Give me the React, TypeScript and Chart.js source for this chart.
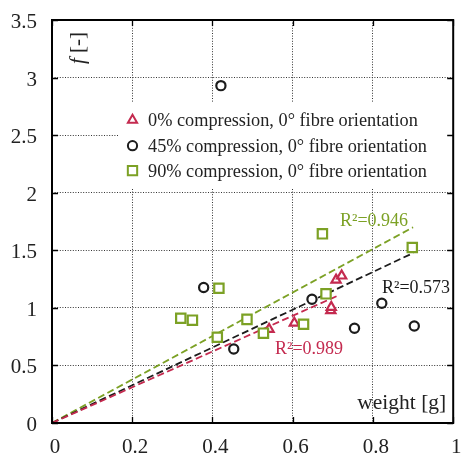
import React, { useEffect, useRef } from "react";
import { Chart, registerables } from "chart.js";

Chart.register(...registerables);

// ---------- data ----------
const weight0 = [0.541, 0.604, 0.695, 0.696, 0.708, 0.722];
const f0 = [0.815, 0.868, 0.977, 1.006, 1.243, 1.278];

const weight45 = [0.378, 0.421, 0.453, 0.648, 0.754, 0.822, 0.903];
const f45 = [1.177, 2.93, 0.643, 1.075, 0.823, 1.04, 0.843];

const weight90 = [0.321, 0.35, 0.412, 0.416, 0.486, 0.527, 0.627, 0.674, 0.683, 0.898];
const f90 = [0.91, 0.893, 0.745, 1.17, 0.9, 0.78, 0.858, 1.643, 1.122, 1.524];

// linear fits through the origin: end point of each dashed line
const fitEndX = [0.715, 0.9, 0.9];
const fitEndY = [1.11, 1.476, 1.7];
const r2Labels = ["R²=0.989", "R²=0.573", "R²=0.946"];

const legendLabels = [
  "0% compression, 0° fibre orientation",
  "45% compression, 0° fibre orientation",
  "90% compression, 0° fibre orientation",
];

const xTickLabels = ["0", "0.2", "0.4", "0.6", "0.8", "1"];
const yTickLabels = ["0", "0.5", "1", "1.5", "2", "2.5", "3", "3.5"];
const xTitle = "weight [g]";
const yTitleItalic = "f";
const yTitleRest = " [-]";

// ---------- styles ----------
const RED = "#c42a4f";
const BLACK = "#1c1c1c";
const GREEN = "#7ca125";
const colors = [RED, BLACK, GREEN];
const styles = ["triangle", "circle", "rect"] as const;
const radii = [5.3, 4.6, 6.6];
const SERIF = '"Liberation Serif", "Times New Roman", serif';

function drawMarker(ctx: CanvasRenderingContext2D, style: string, x: number, y: number, r: number) {
  ctx.beginPath();
  if (style === "circle") {
    ctx.arc(x, y, r, 0, Math.PI * 2);
  } else if (style === "rect") {
    const s = r * Math.SQRT1_2;
    ctx.rect(x - s, y - s, 2 * s, 2 * s);
  } else {
    let rad = 0;
    ctx.moveTo(x + Math.sin(rad) * r, y - Math.cos(rad) * r);
    rad += (2 * Math.PI) / 3;
    ctx.lineTo(x + Math.sin(rad) * r, y - Math.cos(rad) * r);
    rad += (2 * Math.PI) / 3;
    ctx.lineTo(x + Math.sin(rad) * r, y - Math.cos(rad) * r);
    ctx.closePath();
  }
  ctx.fill();
  ctx.stroke();
}

const decoPlugin = {
  id: "deco",
  beforeDatasetsDraw(chart: any) {
    const { ctx, chartArea: a } = chart;
    ctx.save();
    // legend box (covers the grid)
    ctx.fillStyle = "#ffffff";
    ctx.fillRect(a.left + 66, a.top + 83, a.right - a.left - 70, 85);
    const rows = [a.top + 100, a.top + 125.7, a.top + 150.7];
    ctx.font = `18.3px ${SERIF}`;
    ctx.textBaseline = "alphabetic";
    ctx.textAlign = "left";
    for (let i = 0; i < 3; i++) {
      ctx.lineWidth = 2;
      ctx.strokeStyle = colors[i];
      ctx.fillStyle = "#ffffff";
      drawMarker(ctx, styles[i], a.left + 80.5, rows[i], radii[i]);
      ctx.fillStyle = "#222";
      ctx.fillText(legendLabels[i], a.left + 96, rows[i] + 6);
    }
    ctx.restore();
  },
  afterDraw(chart: any) {
    const { ctx, chartArea: a } = chart;
    const xs = chart.scales.x;
    const ys = chart.scales.y;
    ctx.save();
    // tick marks on all four sides
    ctx.strokeStyle = "#000";
    ctx.lineWidth = 1.3;
    const tl = 6;
    ctx.beginPath();
    for (const t of xTickLabels) {
      const px = Math.round(xs.getPixelForValue(Number(t))) + 0.5;
      ctx.moveTo(px, a.bottom);
      ctx.lineTo(px, a.bottom - tl);
      ctx.moveTo(px, a.top);
      ctx.lineTo(px, a.top + tl);
    }
    for (const t of yTickLabels) {
      const py = Math.round(ys.getPixelForValue(Number(t))) + 0.5;
      ctx.moveTo(a.left, py);
      ctx.lineTo(a.left + tl, py);
      ctx.moveTo(a.right, py);
      ctx.lineTo(a.right - tl, py);
    }
    ctx.stroke();
    // frame
    ctx.lineWidth = 2;
    ctx.strokeRect(a.left, a.top, a.right - a.left, a.bottom - a.top);

    // tick labels
    ctx.fillStyle = "#222";
    ctx.font = `21px ${SERIF}`;
    ctx.textBaseline = "alphabetic";
    ctx.textAlign = "center";
    for (const t of xTickLabels) {
      ctx.fillText(t, xs.getPixelForValue(Number(t)) + 3, a.bottom + 30);
    }
    ctx.textAlign = "right";
    for (const t of yTickLabels) {
      ctx.fillText(t, a.left - 15, ys.getPixelForValue(Number(t)) + 8);
    }

    // axis titles
    ctx.font = `21.5px ${SERIF}`;
    ctx.textAlign = "right";
    ctx.fillText(xTitle, a.right - 7, a.bottom - 14);

    ctx.save();
    ctx.translate(a.left + 26, a.top + 28);
    ctx.rotate(-Math.PI / 2);
    ctx.textBaseline = "middle";
    ctx.textAlign = "left";
    ctx.font = `italic 21px ${SERIF}`;
    const w1 = ctx.measureText(yTitleItalic).width;
    ctx.font = `21px ${SERIF}`;
    const w2 = ctx.measureText(yTitleRest).width;
    const start = -(w1 + w2) / 2;
    ctx.font = `italic 21px ${SERIF}`;
    ctx.fillText(yTitleItalic, start, 0);
    ctx.font = `21px ${SERIF}`;
    ctx.fillText(yTitleRest, start + w1, 0);
    ctx.restore();

    // R² annotations
    ctx.font = `18px ${SERIF}`;
    ctx.textAlign = "left";
    ctx.textBaseline = "alphabetic";
    const annPos = [
      [275, 354],
      [382, 293],
      [340, 226],
    ];
    for (let i = 0; i < 3; i++) {
      ctx.fillStyle = colors[i];
      ctx.fillText(r2Labels[i], annPos[i][0], annPos[i][1]);
    }
    ctx.restore();
  },
};

function toPoints(xs: number[], ys: number[]) {
  return xs.map((x, i) => ({ x, y: ys[i] }));
}

export default function App() {
  const ref = useRef<HTMLCanvasElement>(null);
  useEffect(() => {
    const canvas = ref.current;
    if (!canvas) return;
    const seriesX = [weight0, weight45, weight90];
    const seriesY = [f0, f45, f90];
    const order = [2, 1, 0];
    const scatterSets = [0, 1, 2].map((i) => ({
      type: "scatter" as const,
      label: legendLabels[i],
      data: toPoints(seriesX[i], seriesY[i]),
      pointStyle: styles[i],
      pointRadius: radii[i],
      pointBorderWidth: 2.2,
      pointBorderColor: colors[i],
      pointBackgroundColor: "#ffffff",
      order: order[i],
    }));
    const fitSets = [0, 1, 2].map((i) => ({
      type: "line" as const,
      label: "fit " + i,
      data: [
        { x: 0, y: 0 },
        { x: fitEndX[i], y: fitEndY[i] },
      ],
      borderColor: colors[i],
      borderWidth: 1.8,
      borderDash: [7, 3.5],
      pointRadius: 0,
      fill: false,
      order: 10 + i,
    }));
    const chart = new Chart(canvas, {
      type: "scatter",
      data: { datasets: [...fitSets, ...scatterSets] as any },
      options: {
        animation: false,
        responsive: false,
        devicePixelRatio: 1,
        layout: { padding: { left: 0, right: 6, top: 20, bottom: 0 } },
        plugins: { legend: { display: false }, tooltip: { enabled: false } },
        scales: {
          x: {
            type: "linear",
            min: 0,
            max: 1,
            ticks: { stepSize: 0.2, display: false },
            grid: { color: "#333", lineWidth: 1, drawTicks: false },
            border: { display: false, dash: [1, 1.6] },
            afterFit: (s: any) => {
              s.height = 31;
            },
          },
          y: {
            type: "linear",
            min: 0,
            max: 3.5,
            ticks: { stepSize: 0.5, display: false },
            grid: { color: "#333", lineWidth: 1, drawTicks: false },
            border: { display: false, dash: [1, 1.6] },
            afterFit: (s: any) => {
              s.width = 52;
            },
          },
        },
      } as any,
      plugins: [decoPlugin],
    });
    return () => chart.destroy();
  }, []);
  return (
    <div style={{ position: "fixed", left: 0, top: 0, width: 462, height: 454, background: "#fff" }}>
      <canvas ref={ref} width={462} height={454} style={{ display: "block", width: 462, height: 454 }} />
    </div>
  );
}
